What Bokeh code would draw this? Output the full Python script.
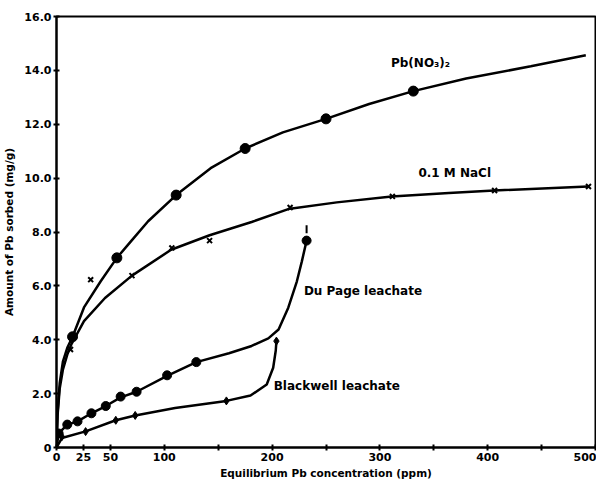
from bokeh.plotting import figure
from bokeh.models import Range1d, FixedTicker, Label
from bokeh.embed import file_html
from bokeh.resources import INLINE

# ---- data ----
# Pb(NO3)2 (circles)
pb_x = [14.9, 56, 111, 175, 250, 331]
pb_y = [4.11, 7.04, 9.37, 11.1, 12.2, 13.23]
pb_curve_x = [0, 1, 3, 6, 10, 14.9, 25.5, 41, 56, 70, 85, 111, 143, 175, 210, 250, 290, 331, 380, 440, 491]
pb_curve_y = [0, 1.3, 2.4, 3.2, 3.7, 4.11, 5.2, 6.17, 7.04, 7.7, 8.4, 9.37, 10.37, 11.1, 11.7, 12.2, 12.75, 13.23, 13.7, 14.15, 14.56]

# 0.1 M NaCl (x marks)
nacl_x = [13, 31.7, 70, 107, 142, 216.7, 311.6, 406.4, 493.5]
nacl_y = [3.64, 6.23, 6.38, 7.41, 7.68, 8.91, 9.32, 9.54, 9.69]
nacl_curve_x = [0, 1, 3, 6, 10, 14, 25.5, 45, 70, 106.3, 142, 181, 215, 260, 311, 364, 406, 493]
nacl_curve_y = [0, 1.2, 2.2, 2.9, 3.45, 3.85, 4.69, 5.55, 6.38, 7.34, 7.88, 8.37, 8.85, 9.1, 9.32, 9.45, 9.54, 9.69]

# Du Page leachate (circles)
dp_x = [2, 10, 19.5, 32.4, 45.7, 59.5, 74.3, 102.6, 129.7, 232]
dp_y = [0.52, 0.85, 0.97, 1.27, 1.54, 1.89, 2.07, 2.68, 3.17, 7.68]
dp_curve_x = [0, 2, 10, 19.5, 32.4, 45.7, 59.5, 74.3, 102.6, 129.7, 160, 181, 196.5, 206, 215, 223, 227.6, 232]
dp_curve_y = [0, 0.52, 0.85, 0.97, 1.27, 1.54, 1.86, 2.07, 2.66, 3.17, 3.5, 3.77, 4.05, 4.38, 5.19, 6.17, 6.91, 7.68]
dp_bar_x = [232]
dp_bar_lo = [7.95]
dp_bar_hi = [8.25]

# Blackwell leachate (diamonds)
bw_x = [5, 27, 55, 73, 157.6, 204]
bw_y = [0.4, 0.59, 1.01, 1.19, 1.73, 3.95]
bw_curve_x = [0, 5, 27, 55, 73, 110, 157.6, 180, 195, 201, 203.4, 204]
bw_curve_y = [0, 0.35, 0.6, 1.01, 1.19, 1.47, 1.73, 1.93, 2.34, 2.96, 3.6, 3.95]

x_ticks = [0, 25, 50, 100, 150, 200, 250, 300, 350, 400, 450, 500]
x_tick_labels = ["0", "25", "50", "100", "", "200", "", "300", "", "400", "", "500"]
y_ticks = [0, 2, 4, 6, 8, 10, 12, 14, 16]
y_tick_labels = ["0", "2.0", "4.0", "6.0", "8.0", "10.0", "12.0", "14.0", "16.0"]

FONT = "DejaVu Sans"

p = figure(width=596, height=481, x_range=Range1d(0, 500), y_range=Range1d(0, 16),
           output_backend="svg", toolbar_location=None,
           min_border_top=16, min_border_right=1, min_border_left=54, min_border_bottom=0)
p.xgrid.visible = False
p.ygrid.visible = False
p.outline_line_color = "black"
p.outline_line_width = 2
p.outline_line_alpha = 1
p.background_fill_color = "white"

for ax in (p.xaxis[0], p.yaxis[0]):
    ax.axis_line_width = 2
    ax.axis_line_color = "black"
    ax.major_tick_line_width = 2
    ax.major_tick_line_color = "black"
    ax.major_tick_in = 3
    ax.major_tick_out = 3
    ax.minor_tick_in = 0
    ax.minor_tick_out = 0
    ax.major_label_text_font = FONT
    ax.major_label_text_font_style = "bold"
    ax.major_label_text_font_size = "11px"
    ax.major_label_text_color = "black"
    ax.axis_label_text_font = FONT
    ax.axis_label_text_font_style = "bold"
    ax.axis_label_text_font_size = "10.5px"
    ax.axis_label_text_color = "black"
    ax.major_label_standoff = 2
    ax.axis_label_standoff = 3

p.xaxis.ticker = FixedTicker(ticks=x_ticks)
p.xaxis.major_label_overrides = {t: l for t, l in zip(x_ticks, x_tick_labels)}
p.yaxis.ticker = FixedTicker(ticks=y_ticks)
p.yaxis.major_label_overrides = {t: l for t, l in zip(y_ticks, y_tick_labels)}
p.xaxis.axis_label = "Equilibrium Pb concentration (ppm)"
p.yaxis.axis_label = "Amount of Pb sorbed (mg/g)"
p.yaxis.axis_label_standoff = 6

lw = 2.5
p.line(pb_curve_x, pb_curve_y, line_color="black", line_width=lw)
p.line(nacl_curve_x, nacl_curve_y, line_color="black", line_width=lw)
p.line(dp_curve_x, dp_curve_y, line_color="black", line_width=lw)
p.line(bw_curve_x, bw_curve_y, line_color="black", line_width=lw)

p.scatter(pb_x, pb_y, marker="circle", size=10, color="black")
p.scatter(nacl_x, nacl_y, marker="x", size=7, line_color="black", line_width=2)
p.scatter(dp_x, dp_y, marker="circle", size=9, color="black")
p.segment(x0=dp_bar_x, y0=dp_bar_lo, x1=dp_bar_x, y1=dp_bar_hi, line_color="black", line_width=2)
p.scatter(bw_x, bw_y, marker="diamond", size=8, color="black")

lab = dict(text_font=FONT, text_font_style="bold", text_font_size="12px", text_color="black")
p.add_layout(Label(x=337.7, y=14.26, text="Pb(NO₃)₂", text_align="center", text_baseline="middle", **lab))
p.add_layout(Label(x=369.4, y=10.19, text="0.1 M NaCl", text_align="center", text_baseline="middle", **lab))
p.add_layout(Label(x=229.5, y=5.81, text="Du Page leachate", text_align="left", text_baseline="middle", **lab))
p.add_layout(Label(x=201.5, y=2.30, text="Blackwell leachate", text_align="left", text_baseline="middle", **lab))

open("out.html", "w").write(file_html(p, INLINE))
